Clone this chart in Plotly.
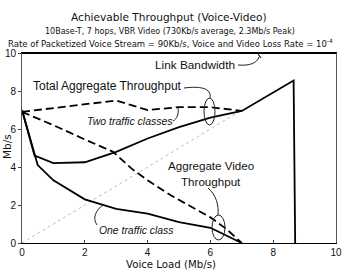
import plotly.graph_objects as go

# ---- data ----
voice_total_one_x = [0, 0.4, 1, 2, 3, 4, 5, 6, 7, 8.65, 8.7]
voice_total_one_y = [7, 4.6, 4.2, 4.25, 4.8, 5.5, 6.1, 6.6, 6.95, 8.55, 0]
voice_total_two_x = [0, 1, 2, 3, 4, 5, 6, 7]
voice_total_two_y = [6.9, 7.1, 7.3, 7.5, 7.0, 7.15, 7.15, 6.95]
video_one_x = [0, 0.35, 0.5, 1, 2, 3, 4, 5, 6, 7]
video_one_y = [7, 4.9, 4.1, 3.3, 2.3, 1.8, 1.55, 1.1, 0.8, 0]
video_two_x = [0, 1, 2, 2.9, 3.5, 4, 4.75, 5.5, 6, 6.5, 7]
video_two_y = [6.9, 6.2, 5.45, 4.8, 3.9, 3.3, 2.5, 1.8, 1.35, 0.75, 0]
diag_x = [0, 7]
diag_y = [0, 7]
link_x = [0, 10]
link_y = [10, 10]
tick_vals = [0, 2, 4, 6, 8, 10]

W, H = 342, 271
L, R, T, B = 22, 336, 53, 243
XMAX, YMAX = 10, 10


def dx(px):
    return (px - L) / (R - L) * XMAX


def dy(py):
    return (B - py) / (B - T) * YMAX


def fx(px):
    return (px - L) / (R - L)


def fy(py):
    return (B - py) / (B - T)


fig = go.Figure()
fig.add_trace(go.Scatter(x=diag_x, y=diag_y, mode="lines",
                         line=dict(color="#aaaaaa", width=0.8, dash="dot")))
fig.add_trace(go.Scatter(x=voice_total_one_x, y=voice_total_one_y, mode="lines",
                         line=dict(color="black", width=1.8)))
fig.add_trace(go.Scatter(x=voice_total_two_x, y=voice_total_two_y, mode="lines",
                         line=dict(color="black", width=1.8, dash="8px,4px")))
fig.add_trace(go.Scatter(x=video_one_x, y=video_one_y, mode="lines",
                         line=dict(color="black", width=1.8)))
fig.add_trace(go.Scatter(x=video_two_x, y=video_two_y, mode="lines",
                         line=dict(color="black", width=1.8, dash="8px,4px")))
fig.add_trace(go.Scatter(x=link_x, y=link_y, mode="lines",
                         line=dict(color="black", width=2.2)))

AF = "Liberation Sans"
TF = "DejaVu Sans"
anns = []


def txt(px, py, s, size, font=AF):
    anns.append(dict(x=fx(px), y=fy(py), xref="paper", yref="paper", text=s, showarrow=False,
                     font=dict(family=font, size=size, color="#111"),
                     xanchor="center", yanchor="middle"))


txt(169, 17, "Achievable Throughput (Voice-Video)", 10.6, TF)
txt(170, 31, "10Base-T, 7 hops, VBR Video (730Kb/s average, 2.3Mb/s Peak)", 8.0, TF)
txt(170, 43, "Rate of Packetized Voice Stream = 90Kb/s, Voice and Video Loss Rate = 10<sup>-4</sup>", 8.5, TF)

txt(195, 65, "Link Bandwidth", 11.8)
txt(107, 86, "Total Aggregate Throughput", 12)
txt(130, 121, "<i>Two traffic classes</i>", 10.5)
txt(210.5, 165, "Aggregate Video", 11.6)
txt(210.5, 181, "Throughput", 11.6)
txt(136, 230, "<i>One traffic class</i>", 10.4)
txt(171, 264, "Voice Load (Mb/s)", 10.2, TF)
anns.append(dict(x=fx(7), y=fy(146), xref="paper", yref="paper", text="Mb/s", showarrow=False,
                 textangle=-90, font=dict(family=TF, size=10.5, color="#111"),
                 xanchor="center", yanchor="middle"))

fig.update_layout(annotations=anns)


def P(pts):
    s = ""
    for cmd, coords in pts:
        s += cmd + " " + " ".join(
            f"{dx(coords[i]):.4f},{dy(coords[i+1]):.4f}" for i in range(0, len(coords), 2)) + " "
    return s.strip()


line = dict(color="#222", width=1)
shapes = [
    dict(type="path", xref="x", yref="y", line=line,
         path=P([("M", [238, 65]), ("C", [250, 66, 257, 63, 259, 57])])),
    dict(type="path", xref="x", yref="y", line=line, fillcolor="black",
         path=P([("M", [258, 54]), ("L", [261, 58, 256, 58]), ("Z", [])])),
    dict(type="path", xref="x", yref="y", line=line,
         path=P([("M", [184, 88]), ("C", [200, 86, 212, 88, 210, 98])])),
    dict(type="path", xref="x", yref="y", line=line,
         path=P([("M", [173, 121]), ("C", [177, 119, 179, 114, 178, 108])])),
    dict(type="path", xref="x", yref="y", line=line,
         path=P([("M", [208, 188]), ("C", [216, 195, 219, 205, 218, 215])])),
    dict(type="path", xref="x", yref="y", line=line,
         path=P([("M", [97, 225]), ("C", [92, 218, 96, 210, 103, 205])])),
    dict(type="circle", xref="x", yref="y", line=line,
         x0=dx(204), x1=dx(215), y0=dy(98), y1=dy(125)),
    dict(type="circle", xref="x", yref="y", line=line,
         x0=dx(212), x1=dx(225), y0=dy(215), y1=dy(240)),
]
fig.update_layout(shapes=shapes)

fig.update_xaxes(range=[0, XMAX], tickvals=tick_vals, ticks="inside", ticklen=3,
                 tickcolor="#444", showgrid=False, zeroline=False, showline=True,
                 linecolor="black", linewidth=1, mirror=True, automargin=False,
                 tickfont=dict(family=AF, size=10, color="#111"))
fig.update_yaxes(range=[0, YMAX], tickvals=tick_vals, ticks="outside", ticklen=3,
                 tickcolor="#444", showgrid=False, zeroline=False, showline=True,
                 linecolor="#555", linewidth=1, mirror=True, automargin=False,
                 tickfont=dict(family=AF, size=10, color="#111"))

fig.update_layout(width=W, height=H, showlegend=False,
                  margin=dict(l=L, r=W - R, t=T, b=H - B, pad=0),
                  plot_bgcolor="white", paper_bgcolor="white")

fig.write_html("out.html")
